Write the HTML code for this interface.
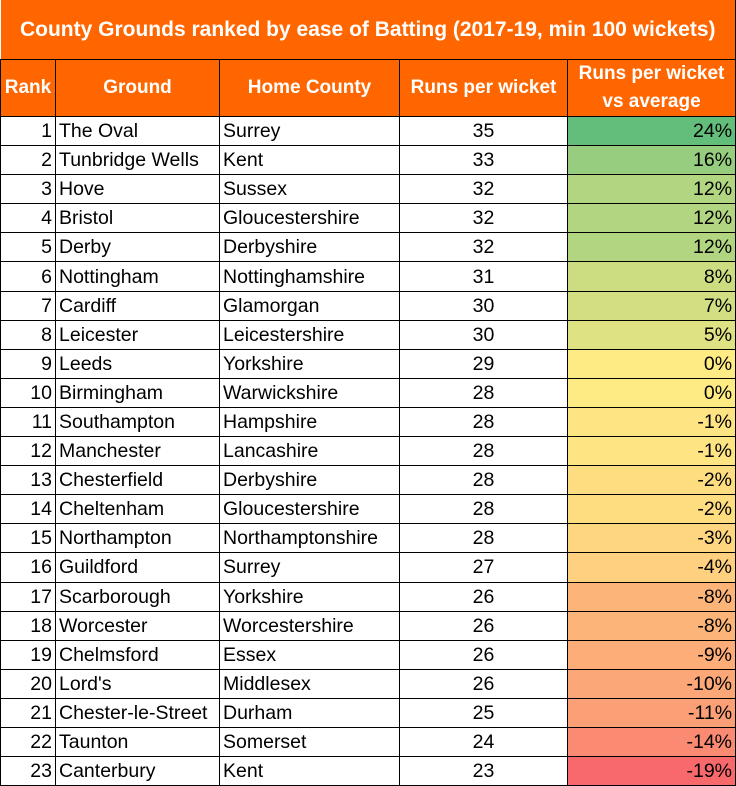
<!DOCTYPE html>
<html><head><meta charset="utf-8"><style>
body{margin:0;background:#fff;width:736px;height:786px;overflow:hidden;font-family:"Liberation Sans",sans-serif;}
table{border-collapse:collapse;position:absolute;left:0;top:0;table-layout:fixed;width:735px}
td,th{border:1.5px solid #000;padding:0 3px;font-size:19.5px;white-space:nowrap;overflow:hidden}
.t{background:#FF6600;color:#fff;font-weight:bold;font-size:21px;height:59px;text-align:center;border-top:none;border-left:none;padding:0}
th{background:#FF6600;color:#fff;font-weight:bold;font-size:19px;height:56px;line-height:28px}
td{height:28.1px;line-height:28px}
.r{text-align:right}.c{text-align:center}
</style></head><body>
<table>
<colgroup><col style="width:55px"><col style="width:164px"><col style="width:180px"><col style="width:168px"><col style="width:168px"></colgroup>
<tr><td colspan="5" class="t">County Grounds ranked by ease of Batting (2017-19, min 100 wickets)</td></tr>
<tr><th>Rank</th><th>Ground</th><th>Home County</th><th>Runs per wicket</th><th>Runs per wicket<br>vs average</th></tr>
<tbody id="b"></tbody>
</table>
<script>
var d=[["The Oval","Surrey",35,24],["Tunbridge Wells","Kent",33,16],["Hove","Sussex",32,12],["Bristol","Gloucestershire",32,12],["Derby","Derbyshire",32,12],["Nottingham","Nottinghamshire",31,8],["Cardiff","Glamorgan",30,7],["Leicester","Leicestershire",30,5],["Leeds","Yorkshire",29,0],["Birmingham","Warwickshire",28,0],["Southampton","Hampshire",28,-1],["Manchester","Lancashire",28,-1],["Chesterfield","Derbyshire",28,-2],["Cheltenham","Gloucestershire",28,-2],["Northampton","Northamptonshire",28,-3],["Guildford","Surrey",27,-4],["Scarborough","Yorkshire",26,-8],["Worcester","Worcestershire",26,-8],["Chelmsford","Essex",26,-9],["Lord's","Middlesex",26,-10],["Chester-le-Street","Durham",25,-11],["Taunton","Somerset",24,-14],["Canterbury","Kent",23,-19]];
function mix(a,b,t){return "rgb("+a.map(function(v,i){return Math.round(v+(b[i]-v)*t)}).join(",")+")"}
var G=[99,190,123],Y=[255,235,132],R=[248,105,107],h="";
d.forEach(function(r,i){var v=r[3],c=v>=0?mix(Y,G,v/24):mix(Y,R,-v/19);
h+="<tr><td class='r'>"+(i+1)+"</td><td>"+r[0]+"</td><td>"+r[1]+"</td><td class='c'>"+r[2]+"</td><td class='r' style='background:"+c+"'>"+v+"%</td></tr>";});
document.getElementById("b").innerHTML=h;
</script>
</body></html>
